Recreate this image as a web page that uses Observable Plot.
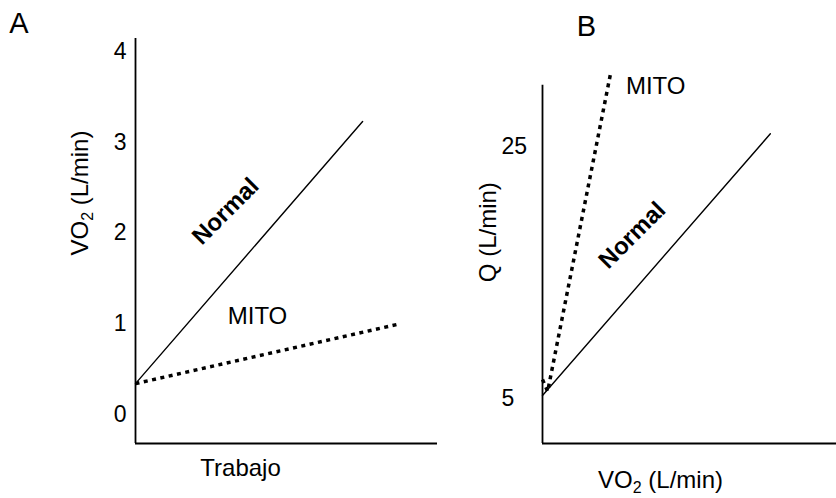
<!DOCTYPE html>
<html><head><meta charset="utf-8">
<script src="https://cdn.jsdelivr.net/npm/d3@7"></script>
<script src="https://cdn.jsdelivr.net/npm/@observablehq/plot@0.6"></script>
<style>
body{margin:0;background:#fff;}
#wrap{position:relative;width:836px;height:498px;overflow:hidden;background:#fff;}
#wrap svg{position:absolute;top:0;}
</style></head><body><div id="wrap"></div>
<script>
// ---- Panel A: VO2 vs work ----
const ticksA = [0, 1, 2, 3, 4];
const workNormalA = [0, 75.2];
const vo2NormalA = [0.34, 3.23];
const workMitoA = [0, 87.7];
const vo2MitoA = [0.34, 1.0];
const annTextA = ["Normal", "MITO"];
const annXA = [29.8, 40.4];
const annYA = [2.24, 1.08];
const annRotA = [-45, 0];
const annBoldA = [true, false];

// ---- Panel B: Q vs VO2 ----
const ticksB = [5, 25];
const vo2NormalB = [0, 3.1];
const qNormalB = [5.28, 26.05];
const vo2MitoB = [0, 0.07, 0.925];
const qMitoB = [6.55, 5.6, 30.8];
const annTextB = ["Normal", "MITO"];
const annXB = [1.22, 1.54];
const annYB = [18.0, 29.8];
const annRotB = [-45, 0];
const annBoldB = [true, false];

const FONT = "'Liberation Sans', Arial, Helvetica, sans-serif";
const xDomA = [0, 100], yDomA = [-0.32, 4.145];
const xDomB = [0, 4], yDomB = [1.47, 32], yAxisTopB = 29.9;

const pts = (xs, ys) => xs.map((x, i) => ({x, y: ys[i]}));
const anns = (t, xs, ys, r, b) => t.map((s, i) => ({t: s, x: xs[i], y: ys[i], r: r[i], b: b[i]}));
const dotted = {stroke: "black", strokeWidth: 3.5, strokeDasharray: "4,4.5", strokeLinecap: "butt"};
const annMarks = (data) => [
  Plot.text(data.filter(d => d.b), {x: "x", y: "y", text: "t", rotate: "r", fontWeight: "bold", fontSize: 24, fill: "black", lineAnchor: "middle"}),
  Plot.text(data.filter(d => !d.b), {x: "x", y: "y", text: "t", rotate: "r", fontSize: 24, fill: "black", lineAnchor: "middle"})
];

const plotA = Plot.plot({
  width: 440, height: 498,
  marginLeft: 135, marginRight: 3, marginTop: 38, marginBottom: 55,
  x: {domain: xDomA, axis: null},
  y: {domain: yDomA, axis: null},
  style: {fontFamily: FONT, background: "transparent", overflow: "visible", color: "black"},
  marks: [
    Plot.ruleX([xDomA[0]], {x: d => d, y1: yDomA[0], y2: yDomA[1], stroke: "black", strokeWidth: 1.8}),
    Plot.ruleY([yDomA[0]], {y: d => d, x1: xDomA[0], x2: xDomA[1], stroke: "black", strokeWidth: 1.8}),
    Plot.text(ticksA, {y: d => d, text: d => String(d), frameAnchor: "left", textAnchor: "end", dx: -9, fontSize: 23, lineAnchor: "middle", fill: "black"}),
    Plot.line(pts(workNormalA, vo2NormalA), {x: "x", y: "y", stroke: "black", strokeWidth: 1.4}),
    Plot.line(pts(workMitoA, vo2MitoA), {x: "x", y: "y", ...dotted}),
    ...annMarks(anns(annTextA, annXA, annYA, annRotA, annBoldA)),
    Plot.text(["VO₂ (L/min)"], {text: d => d, frameAnchor: "left", rotate: -90, dx: -55, dy: 14.5, fontSize: 24, lineAnchor: "middle", fill: "black"}),
    Plot.text(["Trabajo"], {text: d => d, frameAnchor: "bottom", dx: -46, dy: 15, fontSize: 24, lineAnchor: "top", fill: "black"}),
    Plot.text(["A"], {text: d => d, frameAnchor: "top-left", dx: -116.5, dy: -26, fontSize: 29, textAnchor: "middle", lineAnchor: "top", fill: "black"})
  ]
});
plotA.style.left = "0px";

const plotB = Plot.plot({
  width: 416, height: 498,
  marginLeft: 122, marginRight: 0, marginTop: 58.3, marginBottom: 55,
  x: {domain: xDomB, axis: null},
  y: {domain: yDomB, axis: null},
  style: {fontFamily: FONT, background: "transparent", overflow: "visible", color: "black"},
  marks: [
    Plot.ruleX([xDomB[0]], {x: d => d, y1: yDomB[0], y2: yAxisTopB, stroke: "black", strokeWidth: 1.8}),
    Plot.ruleY([yDomB[0]], {y: d => d, x1: xDomB[0], x2: xDomB[1], stroke: "black", strokeWidth: 1.8}),
    Plot.text(ticksB, {y: d => d, text: d => String(d), frameAnchor: "left", textAnchor: "start", dx: -41, fontSize: 23, lineAnchor: "middle", fill: "black"}),
    Plot.line(pts(vo2NormalB, qNormalB), {x: "x", y: "y", stroke: "black", strokeWidth: 1.4}),
    Plot.line(pts(vo2MitoB, qMitoB), {x: "x", y: "y", ...dotted}),
    ...annMarks(anns(annTextB, annXB, annYB, annRotB, annBoldB)),
    Plot.text(["Q (L/min)"], {text: d => d, frameAnchor: "left", rotate: -90, dx: -54.5, dy: 31, fontSize: 24, lineAnchor: "middle", fill: "black"}),
    Plot.text(["VO₂ (L/min)"], {text: d => d, frameAnchor: "bottom", dx: -29, dy: 27, fontSize: 24, lineAnchor: "top", fill: "black"}),
    Plot.text(["B"], {text: d => d, frameAnchor: "top-left", dx: 44, dy: -43.3, fontSize: 29, textAnchor: "middle", lineAnchor: "top", fill: "black"})
  ]
});
plotB.style.left = "420px";

const wrap = document.getElementById("wrap");
wrap.appendChild(plotA);
wrap.appendChild(plotB);

// Render the subscript "2" of VO2 as a real lowered, smaller digit
d3.select(wrap).selectAll("text")
  .filter(function () { return this.childElementCount === 0 && this.textContent.includes("₂"); })
  .each(function () {
    const parts = this.textContent.split("₂");
    const t = d3.select(this);
    t.text(null);
    t.append("tspan").text(parts[0]);
    t.append("tspan").attr("font-size", "16px").attr("dy", 5).text("2");
    t.append("tspan").attr("dy", -5).text(parts[1]);
  });
</script>
</body></html>
